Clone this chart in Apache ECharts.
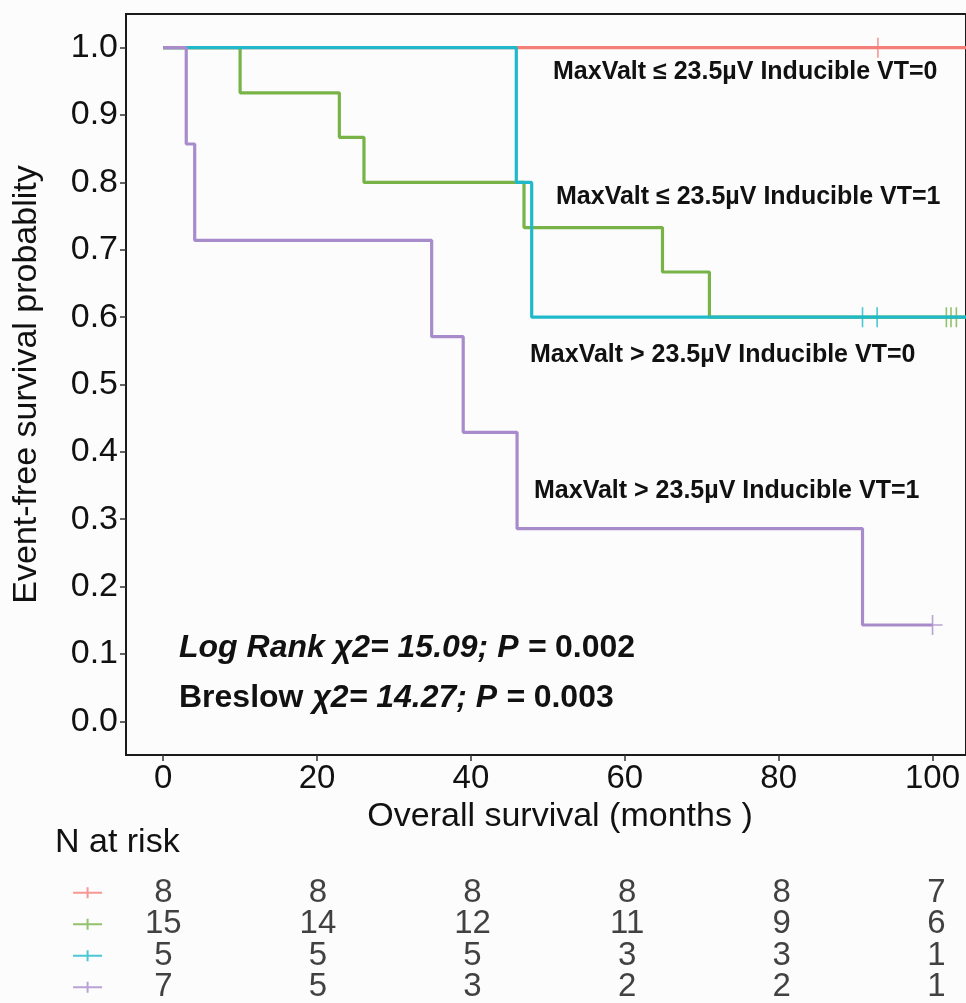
<!DOCTYPE html>
<html>
<head>
<meta charset="utf-8">
<script src="https://cdn.jsdelivr.net/npm/echarts@6/dist/echarts.min.js"></script>
<style>
  html, body { margin: 0; padding: 0; background: #fcfcfd; }
  #chart { width: 966px; height: 1003px; }
</style>
</head>
<body>
<div id="chart"></div>
<script>
// tick labels
const xTicks = [0, 20, 40, 60, 80, 100];
const yTicks = [0, 0.1, 0.2, 0.3, 0.4, 0.5, 0.6, 0.7, 0.8, 0.9, 1.0];

// group names (curve labels)
const groupNames = [
  'MaxValt ≤ 23.5µV Inducible VT=0',
  'MaxValt ≤ 23.5µV Inducible VT=1',
  'MaxValt > 23.5µV Inducible VT=0',
  'MaxValt > 23.5µV Inducible VT=1'
];

// KM steps: time where survival changes, survival after the change
const redTimes = [0, 106];
const redSurv = [1, 1];
const redCensor = [92.9];

const greenTimes = [0, 10, 22.9, 26.1, 46.9, 64.9, 71.0, 106];
const greenSurv = [1, 0.933, 0.867, 0.8, 0.733, 0.667, 0.6, 0.6];
const greenCensor = [101.8, 102.4, 103.1];

const cyanTimes = [0, 45.9, 47.9, 106];
const cyanSurv = [1, 0.8, 0.6, 0.6];
const cyanCensor = [90.9, 92.8];

const purpleTimes = [0, 3.0, 4.1, 34.9, 39.0, 46.0, 90.9, 100];
const purpleSurv = [1, 0.857, 0.714, 0.571, 0.429, 0.286, 0.143, 0.143];
const purpleCensor = [100];

// number at risk table
const riskTimes = [0, 20, 40, 60, 80, 100];
const riskRed = [8, 8, 8, 8, 8, 7];
const riskGreen = [15, 14, 12, 11, 9, 6];
const riskCyan = [5, 5, 5, 3, 3, 1];
const riskPurple = [7, 5, 3, 2, 2, 1];

const colors = ['#f47f79', '#78b347', '#1fb9c9', '#a78bcb'];
const FONT = 'Liberation Sans, Arial, sans-serif';

const curves = [
  [redTimes, redSurv, redCensor],
  [greenTimes, greenSurv, greenCensor],
  [cyanTimes, cyanSurv, cyanCensor],
  [purpleTimes, purpleSurv, purpleCensor]
];
const risks = [riskRed, riskGreen, riskCyan, riskPurple];

// survival value at time t (step lookup)
const survAt = (times, surv, t) => {
  let s = surv[0];
  for (let i = 0; i < times.length; i++) {
    if (times[i] <= t) s = surv[i];
  }
  return s;
};

const plusPath = 'path://M0,9.2 H20 V10.8 H0 Z M9.2,0 H10.8 V20 H9.2 Z';
const legendPlus = 'path://M0,4.5 H29 V6.5 H0 Z M13.5,0 H15.5 V11 H13.5 Z';

const series = [];
curves.forEach(([times, surv, censor], i) => {
  series.push({
    type: 'line',
    step: 'end',
    data: times.map((t, k) => [t, surv[k]]),
    showSymbol: false,
    lineStyle: { color: colors[i], width: 3.2 },
    z: 2 + i
  });
  series.push({
    type: 'scatter',
    data: censor.map(t => [t, survAt(times, surv, t)]),
    symbol: plusPath,
    symbolSize: [20, 20],
    itemStyle: { color: colors[i] },
    z: 2 + i
  });
});

risks.forEach((vals, row) => {
  series.push({
    type: 'scatter',
    xAxisIndex: 1,
    yAxisIndex: 1,
    data: riskTimes.map((t, k) => [t, row, vals[k]]),
    symbolSize: 1,
    itemStyle: { color: 'rgba(0,0,0,0)' },
    label: {
      show: true,
      position: 'inside',
      formatter: p => String(p.value[2]),
      fontSize: 33,
      fontFamily: FONT,
      color: '#111'
    }
  });
});
series.push({
  type: 'scatter',
  xAxisIndex: 1,
  yAxisIndex: 1,
  data: colors.map((c, row) => ({ value: [-9.8, row], itemStyle: { color: c } })),
  symbol: legendPlus,
  symbolSize: [29, 11]
});

const richStyles = {
  i: { fontSize: 32, fontWeight: 'bold', fontStyle: 'italic', fontFamily: FONT, fill: '#111' },
  b: { fontSize: 32, fontWeight: 'bold', fontFamily: FONT, fill: '#111' }
};
const labelStyle = { fontSize: 25, fontWeight: 'bold', fontFamily: FONT, fill: '#111' };

const chart = echarts.init(document.getElementById('chart'));
chart.setOption({
  backgroundColor: '#fcfcfd',
  animation: false,
  grid: [
    { left: 126, top: 14, right: -4, height: 741, show: true, borderColor: '#1a1a1a', borderWidth: 2, backgroundColor: '#fcfcfd' },
    { left: 0, top: 877, width: 966, height: 127 }
  ],
  xAxis: [
    {
      type: 'value', gridIndex: 0, min: -4.83, max: 104.35,
      name: 'Overall survival (months )',
      nameLocation: 'middle', nameGap: 38,
      nameTextStyle: { fontSize: 34, fontFamily: FONT, color: '#111', padding: [0, 0, 0, 28] },
      axisLine: { show: true, onZero: false, lineStyle: { color: '#1a1a1a', width: 2 } },
      axisTick: { show: true, customValues: xTicks, length: 6, lineStyle: { color: '#333', width: 1.5 } },
      axisLabel: { customValues: xTicks, fontSize: 33, fontFamily: FONT, color: '#111', margin: 7 },
      splitLine: { show: false }
    },
    { type: 'value', gridIndex: 1, min: -21.13, max: 103.84, show: false }
  ],
  yAxis: [
    {
      type: 'value', gridIndex: 0, min: -0.05, max: 1.05,
      name: 'Event-free survival probablity',
      nameLocation: 'middle', nameGap: 82,
      nameTextStyle: { fontSize: 34, fontFamily: FONT, color: '#111' },
      axisLine: { show: true, onZero: false, lineStyle: { color: '#1a1a1a', width: 2 } },
      axisTick: { show: true, customValues: yTicks, length: 6, lineStyle: { color: '#333', width: 1.5 } },
      axisLabel: { customValues: yTicks, formatter: v => v.toFixed(1), fontSize: 34, fontFamily: FONT, color: '#111', margin: 8 },
      splitLine: { show: false }
    },
    { type: 'value', gridIndex: 1, min: -0.5, max: 3.5, inverse: true, show: false }
  ],
  graphic: [
    { type: 'text', left: 553, top: 60, style: Object.assign({ text: groupNames[0] }, labelStyle), z: 10 },
    { type: 'text', left: 556, top: 185, style: Object.assign({ text: groupNames[1] }, labelStyle), z: 10 },
    { type: 'text', left: 530, top: 343, style: Object.assign({ text: groupNames[2] }, labelStyle), z: 10 },
    { type: 'text', left: 534, top: 479, style: Object.assign({ text: groupNames[3] }, labelStyle), z: 10 },
    {
      type: 'text', left: 179, top: 632, z: 10,
      style: { text: '{i|Log Rank χ2= 15.09; P = }{b|0.002}', rich: richStyles }
    },
    {
      type: 'text', left: 179, top: 682, z: 10,
      style: { text: '{b|Breslow }{i|χ2= 14.27; P = }{b|0.003}', rich: richStyles }
    },
    { type: 'text', left: 55, top: 826, style: { text: 'N at risk', fontSize: 34, fontFamily: FONT, fill: '#111' } }
  ],
  series: series
});
</script>
</body>
</html>
